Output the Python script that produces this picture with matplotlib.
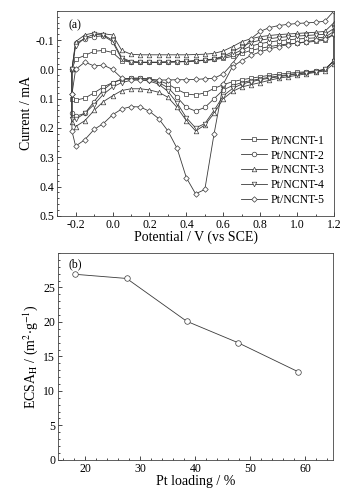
import matplotlib
matplotlib.use("Agg")
import matplotlib.pyplot as plt
from matplotlib.ticker import MultipleLocator

plt.rcParams["font.family"] = ["Liberation Serif", "DejaVu Serif"]
plt.rcParams["mathtext.fontset"] = "stix"

# --- (a) cyclic voltammograms -------------------------------------------
v_anodic = [-0.22, -0.20, -0.15, -0.10, -0.05, 0.00, 0.05, 0.10, 0.15, 0.20,
            0.25, 0.30, 0.35, 0.40, 0.45, 0.50, 0.55, 0.60, 0.65, 0.70,
            0.75, 0.80, 0.85, 0.90, 0.95, 1.00, 1.05, 1.10, 1.15, 1.20]
v_cathodic = v_anodic[::-1]

labels = ["Pt/NCNT-1", "Pt/NCNT-2", "Pt/NCNT-3", "Pt/NCNT-4", "Pt/NCNT-5"]
markers = ["s", "o", "^", "v", "D"]

i1_anodic = [0.00, -0.035, -0.048, -0.062, -0.065, -0.058, -0.03, -0.025, -0.024, -0.024,
             -0.024, -0.025, -0.026, -0.027, -0.029, -0.031, -0.034, -0.038, -0.045, -0.055,
             -0.065, -0.072, -0.078, -0.083, -0.087, -0.09, -0.093, -0.096, -0.10, -0.12]
i1_cathodic = [-0.03, 0.0, 0.005, 0.008, 0.01, 0.013, 0.016, 0.02, 0.025, 0.03,
               0.035, 0.042, 0.052, 0.065, 0.08, 0.087, 0.084, 0.068, 0.05, 0.038,
               0.032, 0.03, 0.03, 0.035, 0.045, 0.06, 0.08, 0.098, 0.105, 0.10]

i2_anodic = [0.00, -0.09, -0.105, -0.112, -0.115, -0.095, -0.035, -0.026, -0.024, -0.024,
             -0.024, -0.025, -0.026, -0.027, -0.029, -0.031, -0.035, -0.042, -0.052, -0.066,
             -0.08, -0.088, -0.094, -0.098, -0.101, -0.104, -0.106, -0.108, -0.11, -0.13]
i2_cathodic = [-0.03, 0.0, 0.006, 0.01, 0.014, 0.018, 0.022, 0.027, 0.032, 0.038,
               0.045, 0.055, 0.07, 0.1, 0.13, 0.142, 0.13, 0.095, 0.062, 0.045,
               0.035, 0.03, 0.03, 0.033, 0.045, 0.07, 0.11, 0.15, 0.16, 0.15]

i3_anodic = [0.00, -0.095, -0.118, -0.125, -0.122, -0.118, -0.065, -0.052, -0.05, -0.05,
             -0.05, -0.05, -0.05, -0.05, -0.051, -0.052, -0.055, -0.063, -0.078, -0.095,
             -0.105, -0.112, -0.116, -0.119, -0.121, -0.123, -0.125, -0.127, -0.13, -0.16]
i3_cathodic = [-0.02, 0.005, 0.01, 0.015, 0.02, 0.025, 0.03, 0.037, 0.045, 0.052,
               0.06, 0.075, 0.1, 0.15, 0.19, 0.21, 0.175, 0.13, 0.095, 0.078,
               0.07, 0.066, 0.066, 0.072, 0.09, 0.11, 0.14, 0.175, 0.195, 0.18]

i4_anodic = [0.00, -0.08, -0.108, -0.12, -0.118, -0.1, -0.04, -0.027, -0.025, -0.025,
             -0.025, -0.026, -0.027, -0.028, -0.03, -0.032, -0.036, -0.045, -0.06, -0.078,
             -0.092, -0.1, -0.105, -0.109, -0.112, -0.114, -0.116, -0.118, -0.12, -0.14]
i4_cathodic = [-0.03, 0.0, 0.008, 0.012, 0.015, 0.02, 0.025, 0.03, 0.035, 0.042,
               0.05, 0.065, 0.09, 0.14, 0.185, 0.2, 0.165, 0.115, 0.075, 0.05,
               0.04, 0.035, 0.037, 0.045, 0.06, 0.085, 0.12, 0.15, 0.17, 0.17]

i5_anodic = [0.085, 0.0, -0.025, -0.012, -0.015, 0.0, 0.03, 0.035, 0.036, 0.036,
             0.036, 0.036, 0.035, 0.035, 0.034, 0.032, 0.03, 0.015, -0.02, -0.065,
             -0.105, -0.13, -0.143, -0.15, -0.154, -0.157, -0.159, -0.161, -0.165, -0.2]
i5_cathodic = [-0.12, -0.105, -0.1, -0.095, -0.09, -0.085, -0.078, -0.07, -0.06, -0.048,
               -0.03, -0.01, 0.05, 0.22, 0.41, 0.425, 0.37, 0.27, 0.21, 0.168,
               0.143, 0.128, 0.127, 0.135, 0.155, 0.185, 0.205, 0.24, 0.262, 0.21]

anodic = [i1_anodic, i2_anodic, i3_anodic, i4_anodic, i5_anodic]
cathodic = [i1_cathodic, i2_cathodic, i3_cathodic, i4_cathodic, i5_cathodic]

# --- (b) ECSA vs Pt loading -----------------------------------------------
pt_loading = [18.2, 27.5, 38.4, 47.7, 58.6]
ecsa = [26.9, 26.3, 20.1, 17.0, 12.8]

fig = plt.figure(figsize=(3.55, 4.95), dpi=100)
ax1 = fig.add_axes([0.161, 0.564, 0.780, 0.414])
ax2 = fig.add_axes([0.163, 0.071, 0.775, 0.418])

fs = 8.5     # tick labels, legend, panel tags
fs_lab = 10  # axis titles
for lab, mk, ya, yc in zip(labels, markers, anodic, cathodic):
    xs = v_anodic + v_cathodic + [v_anodic[0]]
    ys = ya + yc + [ya[0]]
    ms = 2.8 if mk == "D" else 3.3
    ax1.plot(xs, ys, color="#3a3a3a", lw=0.6, marker=mk, ms=ms,
             mfc="white", mec="#3a3a3a", mew=0.5, label=lab)

ax1.set_xlim(-0.3, 1.2)
ax1.set_ylim(0.5, -0.2)
ax1.set_yticks([-0.1, 0.0, 0.1, 0.2, 0.3, 0.4, 0.5])
ax1.set_yticklabels(["-0.1", "0.0", "0.1", "0.2", "0.3", "0.4", "0.5"])
ax1.set_xticks([-0.2, 0.0, 0.2, 0.4, 0.6, 0.8, 1.0, 1.2])
ax1.set_xticklabels(["-0.2", "0.0", "0.2", "0.4", "0.6", "0.8", "1.0", "1.2"])
ax1.xaxis.set_minor_locator(MultipleLocator(0.1))
ax1.yaxis.set_minor_locator(MultipleLocator(0.02))
ax1.set_xlabel("Potential / V (vs SCE)", fontsize=fs_lab, labelpad=0)
ax1.set_ylabel("Current / mA", fontsize=fs_lab, labelpad=2)
ax1.text(0.04, 0.96, "(a)", transform=ax1.transAxes, fontsize=fs, va="top")
ax1.legend(loc="lower right", frameon=False, fontsize=fs, handlelength=2.2,
           handletextpad=0.3, labelspacing=0.25, borderaxespad=0.4)

ax2.plot(pt_loading, ecsa, color="#3a3a3a", lw=0.6, marker="o", ms=4,
         mfc="white", mec="#3a3a3a", mew=0.5)
ax2.set_xlim(15, 65)
ax2.set_ylim(0, 30)
ax2.set_xticks([20, 30, 40, 50, 60])
ax2.set_yticks([0, 5, 10, 15, 20, 25])
ax2.xaxis.set_minor_locator(MultipleLocator(2))
ax2.yaxis.set_minor_locator(MultipleLocator(1))
ax2.set_xlabel("Pt loading / %", fontsize=fs_lab, labelpad=0)
ax2.set_ylabel(r"ECSA$_\mathrm{H}$ / (m$^2$$\cdot$g$^{-1}$)", fontsize=fs_lab, labelpad=2)
ax2.text(0.04, 0.975, "(b)", transform=ax2.transAxes, fontsize=fs, va="top")

for ax in (ax1, ax2):
    ax.tick_params(which="both", direction="in", top=False, right=False,
                   labelsize=fs, pad=2, width=0.5)
    ax.tick_params(which="major", length=3)
    ax.tick_params(which="minor", length=1.5)
    for s in ax.spines.values():
        s.set_linewidth(0.6)
        s.set_color("#444444")

fig.savefig("out.png", dpi=100)
